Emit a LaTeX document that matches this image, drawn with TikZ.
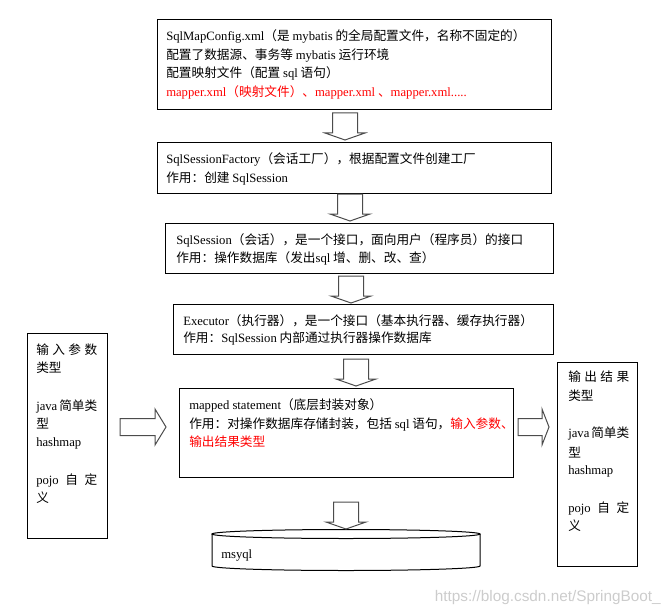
\documentclass[tikz,border=0pt]{standalone}
\usepackage{fontspec}
\setmainfont{Liberation Serif}
\newfontfamily\cjk{Noto Sans CJK SC}
\newfontfamily\wmfont{Liberation Sans}
\usetikzlibrary{fit}
\newcommand\zh[1]{{\cjk #1}}
\newcommand\jl[1]{\hbox to 45.75pt{#1}}
\begin{document}
\begin{tikzpicture}[x=0.75pt,y=-0.75pt,
  box/.style={draw=black, line width=0.75pt, inner sep=0pt},
  txt/.style={anchor=base west, inner sep=0pt, font=\fontsize{9.5}{12}\selectfont},
  redtxt/.style={txt, text=red},
  blockarrow/.style={draw=black!70, line width=0.75pt, fill=white, line join=miter},
  darr/.pic={\draw[blockarrow] (-12.5,0) -- (12.5,0) -- (12.5,20) -- (20,20) -- (0,27) -- (-20,20) -- (-12.5,20) -- cycle;},
]
\useasboundingbox (0,0) rectangle (670,613);

% boxes
\node[box, fit={(157,20) (551,110)}] (cfg) {};
\node[box, fit={(157,143) (551,193)}] (fac) {};
\node[box, fit={(165,223) (553,273)}] (ses) {};
\node[box, fit={(173,304) (553,354)}] (exe) {};
\node[box, fit={(179,388) (513,477)}] (mst) {};
\node[box, fit={(27,333) (107,538)}] (inp) {};
\node[box, fit={(557,362) (637,566)}] (outp) {};

% texts box 1
\node[txt] (c1) at (166,41) {SqlMapConfig.xml\zh{（是 }mybatis\zh{ 的全局配置文件，名称不固定的）}};
\node[txt] (c2) at (166,59.5) {\zh{配置了数据源、事务等 }mybatis\zh{ 运行环境}};
\node[txt] (c3) at (166,78) {\zh{配置映射文件（配置 }sql\zh{ 语句）}};
\node[redtxt] (c4) at (166,97) {mapper.xml\zh{（映射文件）、}mapper.xml\zh{ 、}mapper.xml.....};

% box 2
\node[txt] (f1) at (166,163) {SqlSessionFactory\zh{（会话工厂），根据配置文件创建工厂}};
\node[txt] (f2) at (166,182) {\zh{作用：创建 }SqlSession};

% box 3
\node[txt] (s1) at (176,244) {SqlSession\zh{（会话），是一个接口，面向用户（程序员）的接口}};
\node[txt] (s2) at (176,262) {\zh{作用：操作数据库（发出}sql\zh{ 增、删、改、查）}};

% box 4
\node[txt] (e1) at (183,325) {Executor\zh{（执行器），是一个接口（基本执行器、缓存执行器）}};
\node[txt] (e2) at (183,342) {\zh{作用：}SqlSession\zh{ 内部通过执行器操作数据库}};

% box 5
\node[txt] (m1) at (189,409) {mapped statement\zh{（底层封装对象）}};
\node[txt] (m2) at (189,428) {\zh{作用：对操作数据库存储封装，包括 }sql\zh{ 语句，}\textcolor{red}{\zh{输入参数、}}};
\node[redtxt] (m3) at (189,446) {\zh{输出结果类型}};

% left box
\node[txt] (i1) at (36,354) {\jl{\zh{输}\hfill\zh{入}\hfill\zh{参}\hfill\zh{数}}};
\node[txt] (i2) at (36,372) {\zh{类型}};
\node[txt] (i3) at (36,410) {\jl{java\hfill\zh{简单类}}};
\node[txt] (i4) at (36,428) {\zh{型}};
\node[txt] (i5) at (36,446) {hashmap};
\node[txt] (i6) at (36,484) {\jl{pojo\hfill\zh{自}\hfill\zh{定}}};
\node[txt] (i7) at (36,502) {\zh{义}};

% right box
\node[txt] (o1) at (568,381) {\jl{\zh{输}\hfill\zh{出}\hfill\zh{结}\hfill\zh{果}}};
\node[txt] (o2) at (568,400) {\zh{类型}};
\node[txt] (o3) at (568,437) {\jl{java\hfill\zh{简单类}}};
\node[txt] (o4) at (568,457) {\zh{型}};
\node[txt] (o5) at (568,474) {hashmap};
\node[txt] (o6) at (568,512) {\jl{pojo\hfill\zh{自}\hfill\zh{定}}};
\node[txt] (o7) at (568,530) {\zh{义}};

% database cylinder
\draw[line width=0.75pt] (212,534) -- (212,566) arc[start angle=180,end angle=0,x radius=134,y radius=4.5] -- (480,534);
\draw[line width=0.75pt, fill=white] (346,534) ellipse[x radius=134, y radius=4.5];
\node[txt] (db) at (221,558) {msyql};

% block arrows
\pic at (345,113) {darr};
\pic at (350,194) {darr};
\pic at (351,276) {darr};
\pic at (356,359) {darr};
\pic at (346,502) {darr};
\draw[blockarrow] (120,418.5) -- (155,418.5) -- (155,409) -- (166,427) -- (155,445) -- (155,435.5) -- (120,435.5) -- cycle;
\draw[blockarrow] (518,418.5) -- (542,418.5) -- (542,409) -- (549,427) -- (542,445) -- (542,435.5) -- (518,435.5) -- cycle;

% watermark
\node[anchor=base east, inner sep=0pt, font=\wmfont\fontsize{11.5}{12}\selectfont, text=black!20] (wm) at (661,601) {https://blog.csdn.net/SpringBoot\_};
\end{tikzpicture}
\end{document}
